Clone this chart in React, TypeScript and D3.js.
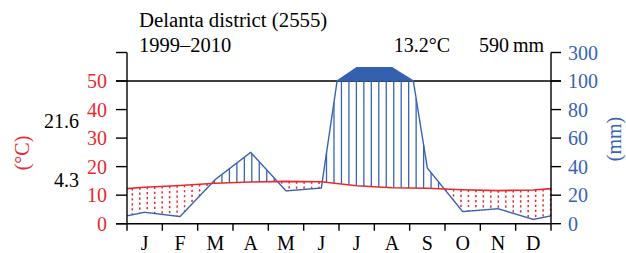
import React from "react";
import * as d3 from "d3";

// ---- data ----
const months = ["J", "F", "M", "A", "M", "J", "J", "A", "S", "O", "N", "D"];
const tempC = [12.8, 13.4, 14.2, 14.6, 14.85, 14.7, 13.3, 12.6, 12.4, 11.9, 11.6, 11.8];
const precipMm = [8, 5, 31, 50, 23, 25, 193, 193, 39, 8.5, 10.5, 3];
const tempTicks = [0, 10, 20, 30, 40, 50];
const precipTickValues = [0, 20, 40, 60, 80, 100, 300];
const titleLine1 = "Delanta district (2555)";
const titleLine2 = "1999–2010";
const meanTempLabel = "13.2°C";
const totalPrecipLabel = "590\u2009mm";
const maxWarmLabel = "21.6";
const minColdLabel = "4.3";

// ---- layout ----
const W = 626;
const H = 253;
const RED = "#e8292e";
const BLUE = "#3763b4";
const FILL = "#3460b0";
const FONT = "'Liberation Serif', 'DejaVu Serif', serif";
const FS = 20;

const x = d3.scaleLinear().domain([0, 12]).range([127, 551]);
const y = d3.scaleLinear().domain([0, 60]).range([223.7, 52.5]);

// precipitation (mm) -> temperature-equivalent units
const pEq = (p: number) => (p <= 100 ? p / 2 : 50 + (p - 100) / 20);
const precipTickY = (p: number) => y(pEq(p));

// extended series (wrap around) for interpolation
const extX = d3.range(-1, 13).map((i) => i + 0.5);
const tInterp = d3
  .scaleLinear()
  .domain(extX)
  .range([tempC[11], ...tempC, tempC[0]]);
const pInterp = d3
  .scaleLinear()
  .domain(extX)
  .range([precipMm[11], ...precipMm, precipMm[0]]);

const fine = d3.range(0, 12.0001, 0.005);
const centers = [0, ...d3.range(12).map((i) => i + 0.5), 12];

const hatchXs = d3.range(0.15, 12.0001, 0.2114);

export default function App() {
  const tempLine = d3
    .line<number>()
    .x((m) => x(m))
    .y((m) => y(tInterp(m)))(centers);

  const precipPts = Array.from(new Set([...fine, ...centers])).sort((a, b) => a - b);
  const precipLine = d3
    .line<number>()
    .x((m) => x(m))
    .y((m) => y(pEq(pInterp(m))))(precipPts);

  const wetArea = d3
    .area<number>()
    .x((m) => x(m))
    .y0(() => y(50))
    .y1((m) => y(Math.max(50, pEq(pInterp(m)))))
    .defined((m) => pInterp(m) > 100)(precipPts);

  const hatches = hatchXs.map((m, i) => {
    const t = tInterp(m);
    const pe = pEq(pInterp(m));
    if (pe > t) {
      return (
        <line
          key={"h" + i}
          x1={x(m)}
          x2={x(m)}
          y1={y(t)}
          y2={y(Math.min(pe, 50))}
          stroke={BLUE}
          strokeWidth={1.3}
        />
      );
    }
    return (
      <line
        key={"h" + i}
        x1={x(m)}
        x2={x(m)}
        y1={y(t)}
        y2={y(pe)}
        stroke={RED}
        strokeWidth={1.5}
        strokeDasharray="2.2 2.8"
      />
    );
  });

  return (
    <svg
      width={W}
      height={H}
      style={{ position: "absolute", left: 0, top: 0, background: "#fff" }}
      fontFamily={FONT}
      fontSize={FS}
    >
      {/* 50°C / 100 mm reference line */}
      <line x1={116} x2={561} y1={y(50)} y2={y(50)} stroke="#000" strokeWidth={1.4} />

      {hatches}

      {wetArea && <path d={wetArea} fill={FILL} stroke={FILL} strokeWidth={0.8} />}
      <path d={precipLine || ""} fill="none" stroke={BLUE} strokeWidth={1.4} />
      <path d={tempLine || ""} fill="none" stroke={RED} strokeWidth={1.6} />

      {/* left axis */}
      <line x1={x(0)} x2={x(0)} y1={y(0)} y2={y(60)} stroke="#000" strokeWidth={1.4} />
      {[...tempTicks, 60].map((t) => (
        <line key={"lt" + t} x1={116} x2={x(0)} y1={y(t)} y2={y(t)} stroke="#000" strokeWidth={1.4} />
      ))}
      {tempTicks.map((t) => (
        <text key={"ll" + t} x={107} y={y(t)} dy="0.35em" textAnchor="end" fill={RED}>
          {t}
        </text>
      ))}

      {/* right axis */}
      <line x1={x(12)} x2={x(12)} y1={y(0)} y2={y(60)} stroke="#000" strokeWidth={1.4} />
      {precipTickValues.map((p) => (
        <line
          key={"rt" + p}
          x1={x(12)}
          x2={561}
          y1={precipTickY(p)}
          y2={precipTickY(p)}
          stroke="#000"
          strokeWidth={1.4}
        />
      ))}
      {precipTickValues.map((p) => (
        <text key={"rl" + p} x={568} y={precipTickY(p)} dy="0.35em" textAnchor="start" fill={BLUE}>
          {p}
        </text>
      ))}

      {/* bottom axis */}
      <line x1={116} x2={x(12)} y1={y(0)} y2={y(0)} stroke="#000" strokeWidth={1.4} />
      {d3.range(13).map((i) => (
        <line key={"bt" + i} x1={x(i)} x2={x(i)} y1={y(0)} y2={y(0) + 7} stroke="#000" strokeWidth={1.4} />
      ))}
      {months.map((m, i) => (
        <text key={"m" + i} x={x(i + 0.5)} y={250} textAnchor="middle" fill="#000">
          {m}
        </text>
      ))}

      {/* titles */}
      <text x={139} y={27} fill="#000" fontSize={20.8}>{titleLine1}</text>
      <text x={139} y={52} fill="#000" fontSize={20.5}>{titleLine2}</text>
      <text x={450} y={52} textAnchor="end" fill="#000">{meanTempLabel}</text>
      <text x={544} y={52} textAnchor="end" fill="#000">{totalPrecipLabel}</text>

      {/* side values */}
      <text x={79} y={128} textAnchor="end" fill="#000">{maxWarmLabel}</text>
      <text x={79} y={187} textAnchor="end" fill="#000">{minColdLabel}</text>

      {/* axis titles */}
      <text transform="translate(29,153) rotate(-90)" textAnchor="middle" fill={RED}>
        (°C)
      </text>
      <text transform="translate(621,139) rotate(-90)" textAnchor="middle" fill={BLUE}>
        (mm)
      </text>
    </svg>
  );
}
